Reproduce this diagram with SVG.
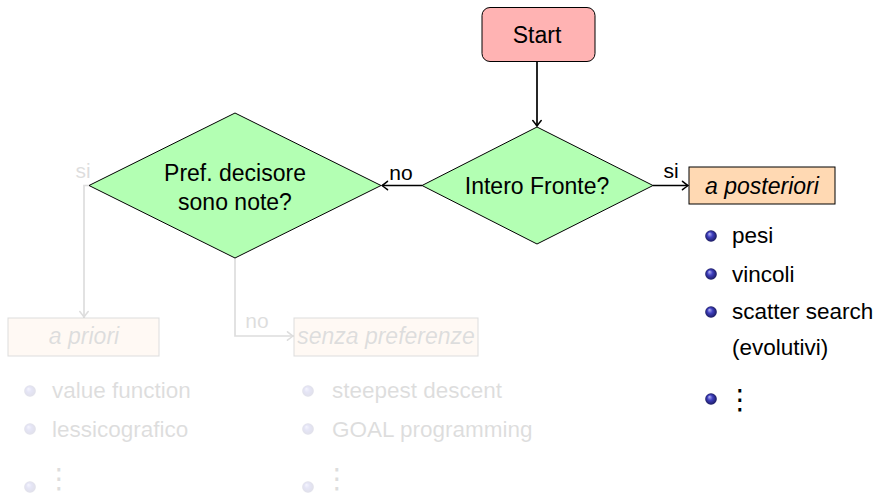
<svg xmlns="http://www.w3.org/2000/svg" width="875" height="495" viewBox="0 0 875 495">
<defs>
<style>
text{font-family:"Liberation Sans",Arial,sans-serif;font-size:23px;fill:#000}
.c{text-anchor:middle}
.it{font-style:italic}
.lbl{font-size:21px}
.li{font-size:22.5px}
.sh{stroke:#000;stroke-width:1}
.con{fill:none;stroke:#000;stroke-width:1.7}
.dots{font-family:"DejaVu Sans",sans-serif;font-size:28px}
</style>
<marker id="arr" markerUnits="userSpaceOnUse" viewBox="-7 -6 8 12" refX="0" refY="0" markerWidth="8" markerHeight="12" orient="auto">
<path d="M-5.5,-4.2 Q-1.8,-1.2 0,0 Q-1.8,1.2 -5.5,4.2" fill="none" stroke="context-stroke" stroke-width="1.5" stroke-linecap="round"/>
</marker>
<radialGradient id="ball" cx="0.5" cy="0.5" r="0.5" fx="0.35" fy="0.3">
<stop offset="0" stop-color="#b8b8f4"/>
<stop offset="0.45" stop-color="#4040c0"/>
<stop offset="1" stop-color="#1a1a60"/>
</radialGradient>
</defs>

<g id="connectors">
<path class="con" d="M537,62 V126" marker-end="url(#arr)"/>
<path class="con" d="M422,185.5 H382" marker-end="url(#arr)"/>
<path class="con" d="M653,185.5 H688" marker-end="url(#arr)"/>
<text class="lbl" x="401" y="180" text-anchor="middle">no</text>
<text class="lbl" x="671" y="178" text-anchor="middle">si</text>
<g opacity="0.13">
<path class="con" d="M89,185.5 H84 V317" marker-end="url(#arr)"/>
<path class="con" d="M235,258 V336 H293" marker-end="url(#arr)"/>
<text class="lbl" x="83" y="178" text-anchor="middle">si</text>
<text class="lbl" x="257" y="328" text-anchor="middle">no</text>
</g>
</g>

<g id="start">
<rect class="sh" x="482" y="7.5" width="113" height="54" rx="8" fill="#ffb3b3"/>
<text class="c" x="537" y="43">Start</text>
</g>

<g id="intero-fronte">
<polygon class="sh" points="422,185.5 537,127 653,185.5 537,244" fill="#b3ffb3"/>
<text class="c" x="537" y="194">Intero Fronte?</text>
</g>

<g id="pref-decisore">
<polygon class="sh" points="89,185.5 235,113 381,185.5 235,258" fill="#b3ffb3"/>
<text class="c" x="235" y="181">Pref. decisore</text>
<text class="c" x="235" y="210">sono note?</text>
</g>

<g id="a-posteriori">
<rect class="sh" x="689" y="167" width="146" height="37" fill="#ffd9b3"/>
<text class="c it" x="762" y="194">a posteriori</text>
<circle cx="711" cy="236" r="5.8" fill="url(#ball)"/>
<text class="li" x="732" y="243">pesi</text>
<circle cx="711" cy="274" r="5.8" fill="url(#ball)"/>
<text class="li" x="732" y="282">vincoli</text>
<circle cx="711" cy="312" r="5.8" fill="url(#ball)"/>
<text class="li" x="732" y="319">scatter search</text>
<text class="li" x="732" y="355">(evolutivi)</text>
<circle cx="711" cy="399" r="5.8" fill="url(#ball)"/>
<text class="dots" x="726" y="409">⋮</text>
</g>

<g id="a-priori" opacity="0.13">
<rect class="sh" x="8" y="318" width="151" height="38" fill="#ffd9b3"/>
<text class="c it" x="84" y="344">a priori</text>
<circle cx="30" cy="391" r="5.8" fill="url(#ball)"/>
<text class="li" x="52" y="398">value function</text>
<circle cx="30" cy="429" r="5.8" fill="url(#ball)"/>
<text class="li" x="52" y="437">lessicografico</text>
<circle cx="30" cy="487" r="5.8" fill="url(#ball)"/>
<text class="dots" x="45" y="488">⋮</text>
</g>

<g id="senza-preferenze" opacity="0.13">
<rect class="sh" x="294" y="318" width="184" height="38" fill="#ffd9b3"/>
<text class="c it" x="386" y="344">senza preferenze</text>
<circle cx="308" cy="391" r="5.8" fill="url(#ball)"/>
<text class="li" x="332" y="398">steepest descent</text>
<circle cx="308" cy="429" r="5.8" fill="url(#ball)"/>
<text class="li" x="332" y="437">GOAL programming</text>
<circle cx="308" cy="487" r="5.8" fill="url(#ball)"/>
<text class="dots" x="323" y="488">⋮</text>
</g>
</svg>
